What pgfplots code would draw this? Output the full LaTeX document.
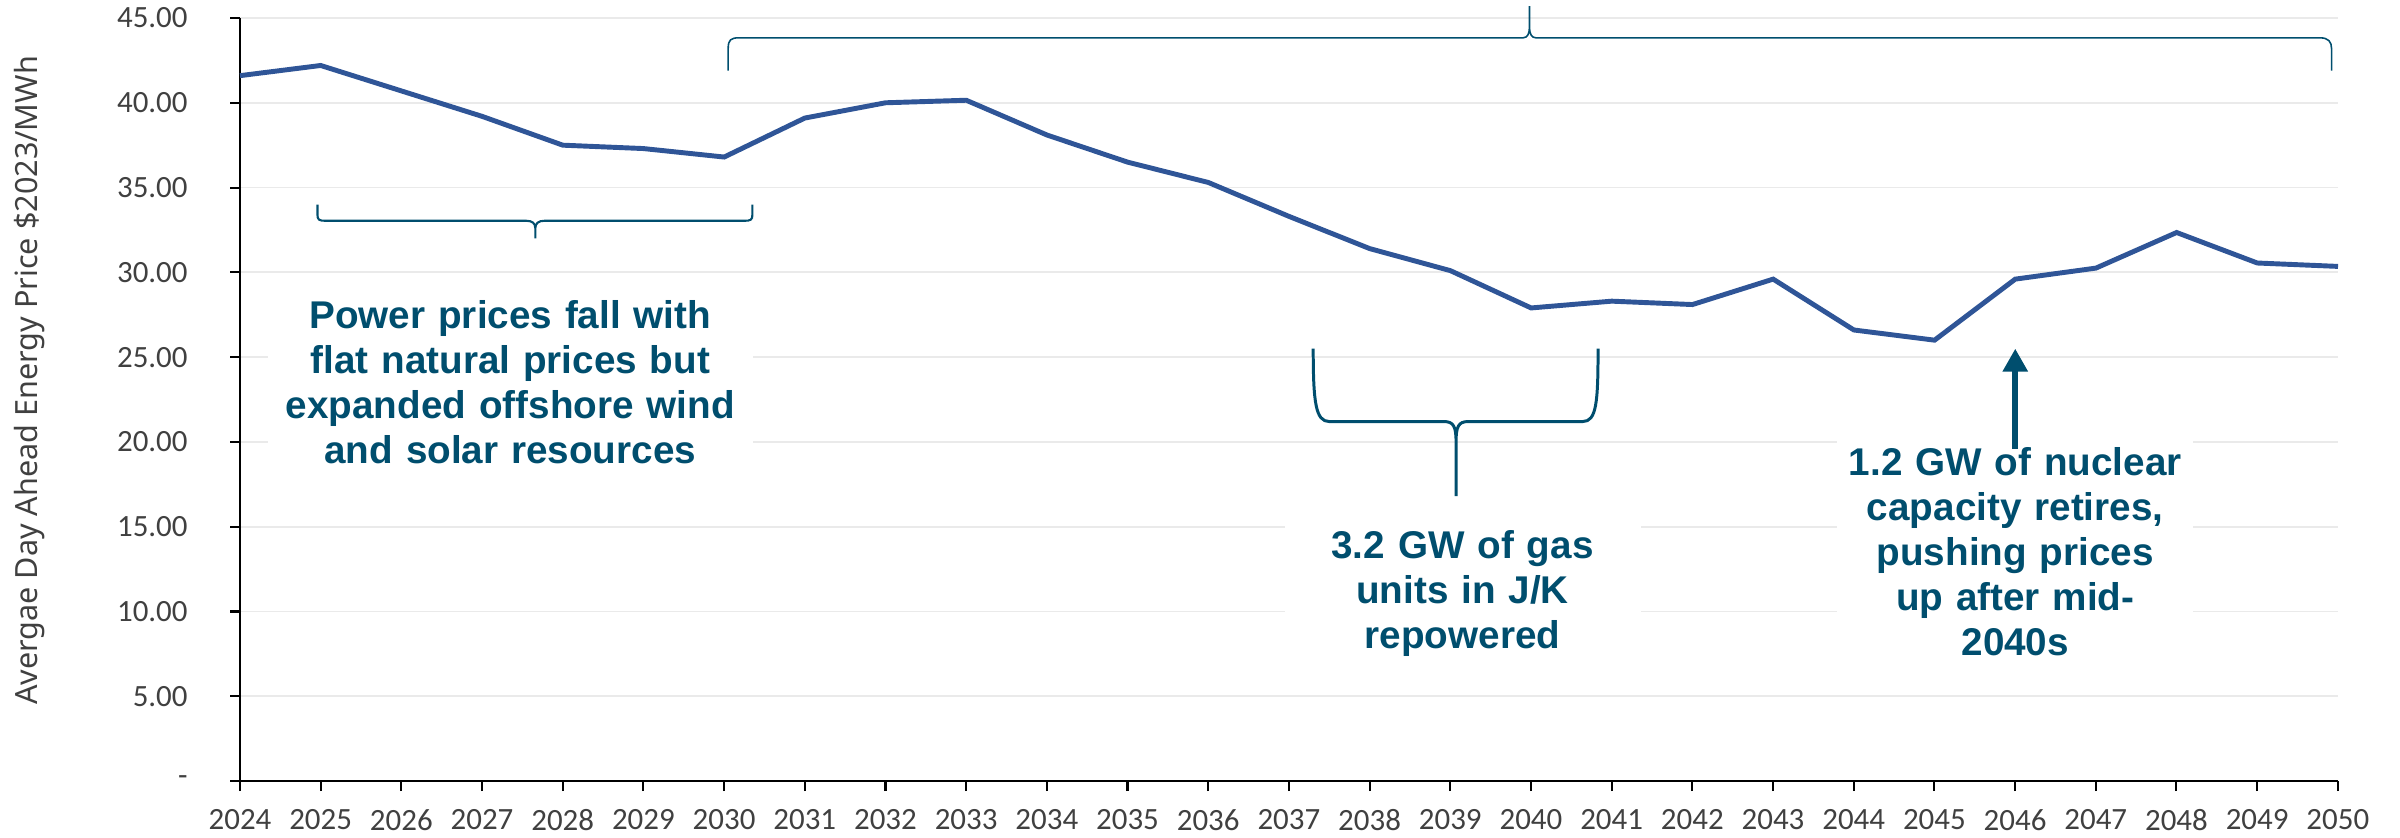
\documentclass[border=0pt]{standalone}
\usepackage{fontspec}
\usepackage{pgfplots}
\pgfplotsset{compat=1.18}
\usetikzlibrary{arrows.meta}
\newfontfamily\tickfont{Carlito}
\newfontfamily\labfont{Noto Sans}
\newfontfamily\annfont{Liberation Sans}
\definecolor{linecol}{RGB}{47,85,151}
\definecolor{anncol}{RGB}{0,78,110}
\definecolor{tickcol}{RGB}{64,64,64}
\definecolor{gridcol}{RGB}{234,234,234}
\begin{document}
\begin{tikzpicture}
\path[use as bounding box] (-24mm,-5.6mm) rectangle (216mm,78.1mm);
\begin{axis}[
  at={(0,0)}, anchor=south west,
  width=209.8mm, height=76.3mm, scale only axis,
  xmin=2024, xmax=2050, ymin=0, ymax=45,
  clip=false,
  axis x line*=bottom, axis y line*=left,
  axis line style={-, line width=0.8pt, black},
  xtick={2024,...,2050},
  ytick={0,5,...,45},
  yticklabels={{-\hspace{1.9mm}},5.00,10.00,15.00,20.00,25.00,30.00,35.00,40.00,45.00},
  tick align=outside,
  major tick length=1mm,
  tick style={black, line width=0.6pt},
  ymajorgrids,
  grid style={gridcol, line width=0.5pt},
  tick label style={font=\tickfont\fontsize{8.8}{10}\selectfont, text=tickcol},
  /pgf/number format/assume math mode=true,
  /pgf/number format/1000 sep={},
  xticklabel style={yshift=-0.6mm},
  yticklabel style={xshift=-3.0mm},
  ylabel={Avergae Day Ahead Energy Price \$2023/MWh},
  ylabel style={at={(axis description cs:-0.1005,0.525)}, anchor=center, font=\labfont\fontsize{8.7}{10}\selectfont, text=tickcol},
]
\addplot[linecol, line width=1.4pt, mark=none] coordinates {
(2024,41.6) (2025,42.2) (2026,40.7) (2027,39.2) (2028,37.5) (2029,37.3)
(2030,36.8) (2031,39.1) (2032,40.0) (2033,40.15) (2034,38.1) (2035,36.5)
(2036,35.3) (2037,33.3) (2038,31.4) (2039,30.1) (2040,27.9) (2041,28.3)
(2042,28.1) (2043,29.6) (2044,26.6) (2045,26.0) (2046,29.6) (2047,30.25)
(2048,32.35) (2049,30.55) (2050,30.35)
};
% annotation boxes
\node[fill=white, inner xsep=0.5mm, inner ysep=1.2mm, text width=47.5mm, align=center, text=anncol,
  font=\annfont\bfseries\fontsize{11}{12.8}\selectfont]
  at (axis cs:2027.35,23.5) {Power prices fall with flat natural prices but expanded offshore wind and solar resources};
\node[fill=white, inner xsep=0.3mm, inner ysep=1.2mm, text width=35mm, align=center, text=anncol,
  font=\annfont\bfseries\fontsize{11}{12.8}\selectfont]
  at (axis cs:2039.15,11.03) {3.2 GW of gas\\units in J/K\\repowered};
\node[fill=white, inner xsep=0.3mm, inner ysep=1.2mm, text width=35mm, align=center, text=anncol,
  font=\annfont\bfseries\fontsize{11}{12.8}\selectfont]
  at (axis cs:2046.0,13.5) {1.2 GW of nuclear\\capacity retires,\\pushing prices\\up after mid-\\2040s};
% arrow
\draw[anncol, line width=1.8pt, -{Triangle[width=2.4mm,length=2.3mm]}]
  (axis cs:2046,19.6) -- (axis cs:2046,25.5);
% top brace
\draw[anncol, line width=0.45pt]
  (axis cs:2030.05,41.9) -- (axis cs:2030.05,43.2)
  .. controls (axis cs:2030.05,43.7) and (axis cs:2030.08,43.83) .. (axis cs:2030.18,43.83)
  -- (axis cs:2039.90,43.83)
  .. controls (axis cs:2039.96,43.83) and (axis cs:2039.98,44.1) .. (axis cs:2039.98,44.5)
  -- (axis cs:2039.98,45.7) -- (axis cs:2039.98,44.5)
  .. controls (axis cs:2039.98,44.1) and (axis cs:2040.0,43.83) .. (axis cs:2040.06,43.83)
  -- (axis cs:2049.78,43.83)
  .. controls (axis cs:2049.88,43.83) and (axis cs:2049.92,43.6) .. (axis cs:2049.92,43.2)
  -- (axis cs:2049.92,41.9);
% lower-left brace
\draw[anncol, line width=0.6pt]
  (axis cs:2024.96,34.0) -- (axis cs:2024.96,33.4)
  .. controls (axis cs:2024.96,33.1) and (axis cs:2024.98,33.04) .. (axis cs:2025.06,33.04)
  -- (axis cs:2027.55,33.04)
  .. controls (axis cs:2027.62,33.04) and (axis cs:2027.66,32.9) .. (axis cs:2027.66,32.6)
  -- (axis cs:2027.66,32.0) -- (axis cs:2027.66,32.6)
  .. controls (axis cs:2027.66,32.9) and (axis cs:2027.70,33.04) .. (axis cs:2027.77,33.04)
  -- (axis cs:2030.25,33.04)
  .. controls (axis cs:2030.33,33.04) and (axis cs:2030.35,33.1) .. (axis cs:2030.35,33.4)
  -- (axis cs:2030.35,34.0);
% middle brace
\draw[anncol, line width=0.85pt]
  (axis cs:2037.30,25.5)
  .. controls (axis cs:2037.30,22.3) and (axis cs:2037.33,21.2) .. (axis cs:2037.50,21.2)
  -- (axis cs:2038.92,21.2)
  .. controls (axis cs:2039.04,21.2) and (axis cs:2039.07,20.9) .. (axis cs:2039.07,20.0)
  -- (axis cs:2039.07,16.8) -- (axis cs:2039.07,20.0)
  .. controls (axis cs:2039.07,20.9) and (axis cs:2039.10,21.2) .. (axis cs:2039.22,21.2)
  -- (axis cs:2040.64,21.2)
  .. controls (axis cs:2040.81,21.2) and (axis cs:2040.83,22.3) .. (axis cs:2040.83,25.5);
\end{axis}
\end{tikzpicture}
\end{document}
